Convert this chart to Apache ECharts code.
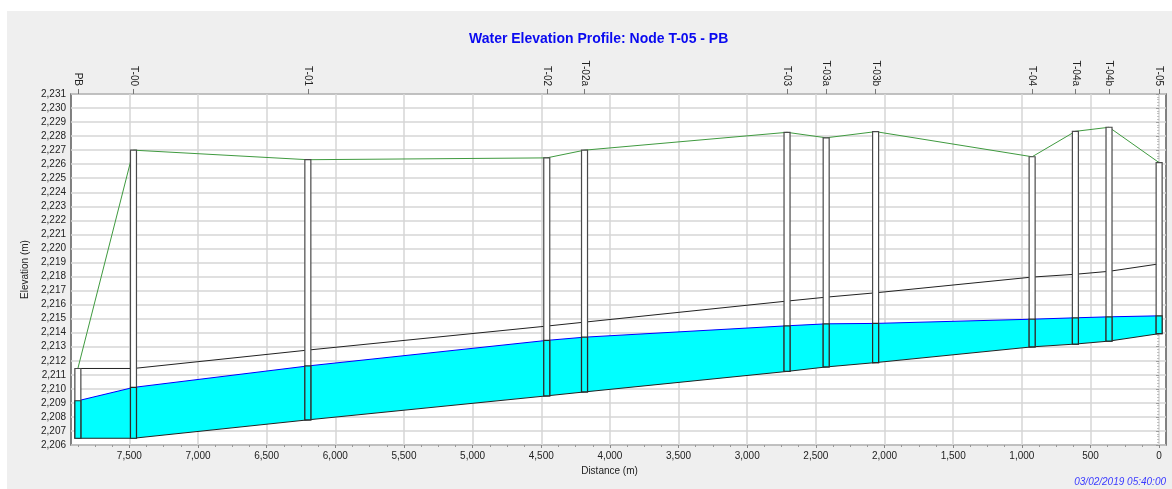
<!DOCTYPE html>
<html lang="en">
<head>
  <meta charset="UTF-8">
  <title>Water Elevation Profile</title>
  <script src="https://cdn.jsdelivr.net/npm/echarts@6/dist/echarts.min.js"></script>
  <style>
    html, body { margin: 0; padding: 0; background: #fff; }
    #main { width: 1172px; height: 489px; }
  </style>
</head>
<body>

<div id="main"></div>

<script>
  // nodes, from upstream (PB) to downstream (T-05); distance measured from T-05
  var nodeNames = ['PB', 'T-00', 'T-01', 'T-02', 'T-02a', 'T-03', 'T-03a', 'T-03b', 'T-04', 'T-04a', 'T-04b', 'T-05'];
  var nodeDist = [7875, 7470, 6200, 4460, 4185, 2710, 2425, 2065, 925, 610, 365, 0];
  var groundElev = [2211.45, 2227.0, 2226.32, 2226.45, 2227.0, 2228.27, 2227.88, 2228.32, 2226.53, 2228.34, 2228.63, 2226.11];
  var crownElev = [2211.45, 2211.45, 2212.76, 2214.47, 2214.75, 2216.25, 2216.53, 2216.84, 2217.96, 2218.16, 2218.37, 2218.9];
  var waterElev = [2209.15, 2210.1, 2211.63, 2213.45, 2213.68, 2214.49, 2214.63, 2214.66, 2214.96, 2215.06, 2215.13, 2215.2];
  var invertElev = [2206.48, 2206.48, 2207.79, 2209.5, 2209.78, 2211.24, 2211.56, 2211.87, 2212.99, 2213.19, 2213.4, 2213.93];

  var distTicks = [0, 500, 1000, 1500, 2000, 2500, 3000, 3500, 4000, 4500, 5000, 5500, 6000, 6500, 7000, 7500];
  var distRange = [-50, 7925];
  var elevRange = [2206, 2231];

  var minorTicks = [];
  for (var m = 0; m <= 7875; m += 125) {
    if (m % 500 !== 0) minorTicks.push(m);
  }

  function pairs(ys) {
    return nodeDist.map(function (d, i) { return [d, ys[i]]; });
  }
  function fmt(v) {
    return Number(v).toLocaleString('en-US');
  }

  var font = 'Liberation Sans, Arial, sans-serif';
  var chart = echarts.init(document.getElementById('main'));

  chart.setOption({
    animation: false,
    backgroundColor: '#fff',
    textStyle: { fontFamily: font },
    graphic: [
      {
        type: 'rect', z: -10, silent: true,
        shape: { x: 7, y: 11, width: 1165, height: 478 },
        style: { fill: '#efefef' }
      },
      {
        type: 'text', z: 10,
        style: {
          x: 1166, y: 482, text: '03/02/2019 05:40:00',
          align: 'right', verticalAlign: 'middle',
          fill: '#3b3bff', font: 'italic 10px ' + font
        }
      }
    ],
    title: {
      text: 'Water Elevation Profile: Node T-05 - PB',
      left: 464, top: 27,
      textStyle: { color: '#0a0af0', fontSize: 14, fontWeight: 'bold', fontFamily: font }
    },
    grid: {
      left: 71, right: 6, top: 94, bottom: 44,
      show: true, backgroundColor: '#fff',
      borderColor: '#5a5a5a', borderWidth: 1.5
    },
    xAxis: [
      {
        type: 'value', position: 'bottom', inverse: true,
        min: distRange[0], max: distRange[1],
        name: 'Distance (m)', nameLocation: 'middle', nameGap: 17,
        nameTextStyle: { color: '#222', fontSize: 10, padding: [0, 18, 0, 0] },
        axisLine: { show: false },
        axisTick: { show: true, customValues: distTicks, length: 3, lineStyle: { color: '#888' } },
        axisLabel: { customValues: distTicks, formatter: fmt, color: '#222', fontSize: 10, margin: 6 },
        splitLine: { show: true, lineStyle: { color: '#d6d6d6', width: 1.5 } }
      },
      {
        type: 'value', position: 'bottom', inverse: true,
        min: distRange[0], max: distRange[1],
        axisLine: { show: false },
        axisTick: { show: true, customValues: minorTicks, length: 2, lineStyle: { color: '#999' } },
        axisLabel: { show: false },
        splitLine: { show: false }
      },
      {
        type: 'value', position: 'top', inverse: true,
        min: distRange[0], max: distRange[1],
        axisLine: { show: false },
        axisTick: { show: true, customValues: nodeDist, length: 5, lineStyle: { color: '#777' } },
        axisLabel: {
          customValues: nodeDist, rotate: 90, color: '#222', fontSize: 10, margin: 8,
          formatter: function (v) { return nodeNames[nodeDist.indexOf(v)]; }
        },
        splitLine: { show: false }
      }
    ],
    yAxis: {
      type: 'value', min: elevRange[0], max: elevRange[1], interval: 1,
      name: 'Elevation (m)', nameLocation: 'middle', nameGap: 33,
      nameTextStyle: { color: '#222', fontSize: 10 },
      axisLine: { show: false },
      axisTick: { show: true, length: 3, lineStyle: { color: '#999' } },
      minorTick: { show: true, splitNumber: 5, length: 2, lineStyle: { color: '#bbb' } },
      axisLabel: { formatter: fmt, color: '#222', fontSize: 10, margin: 5 },
      splitLine: { show: true, lineStyle: { color: '#d6d6d6', width: 1.5 } }
    },
    series: [
      {
        // water in the pipes, between invert and hydraulic grade
        type: 'custom', z: 1, xAxisIndex: 0, silent: true,
        data: pairs(invertElev),
        renderItem: function (params, api) {
          var i = params.dataIndex;
          if (i >= nodeDist.length - 1) return null;
          var pts = [
            api.coord([nodeDist[i], invertElev[i]]),
            api.coord([nodeDist[i + 1], invertElev[i + 1]]),
            api.coord([nodeDist[i + 1], waterElev[i + 1]]),
            api.coord([nodeDist[i], waterElev[i]])
          ];
          return { type: 'polygon', shape: { points: pts }, style: { fill: '#00ffff', stroke: null } };
        }
      },
      {
        name: 'Hydraulic Grade', type: 'line', z: 2, symbol: 'none',
        data: pairs(waterElev),
        lineStyle: { color: '#0000ff', width: 1 }
      },
      {
        name: 'Invert', type: 'line', z: 2, symbol: 'none',
        data: pairs(invertElev),
        lineStyle: { color: '#222', width: 1 }
      },
      {
        name: 'Crown', type: 'line', z: 2, symbol: 'none',
        data: pairs(crownElev),
        lineStyle: { color: '#222', width: 1 }
      },
      {
        name: 'Ground', type: 'line', z: 2, symbol: 'none',
        data: pairs(groundElev),
        lineStyle: { color: '#3f9a3f', width: 1 }
      },
      {
        // manholes
        type: 'custom', z: 3, silent: true,
        data: pairs(groundElev),
        renderItem: function (params, api) {
          var i = params.dataIndex;
          var top = api.coord([nodeDist[i], groundElev[i]]);
          var wat = api.coord([nodeDist[i], waterElev[i]]);
          var bot = api.coord([nodeDist[i], invertElev[i]]);
          var w = 6;
          return {
            type: 'group',
            children: [
              {
                type: 'rect',
                shape: { x: top[0] - w / 2, y: top[1], width: w, height: bot[1] - top[1] },
                style: { fill: '#fff', stroke: '#4a4a4a', lineWidth: 1.2 }
              },
              {
                type: 'rect',
                shape: { x: wat[0] - w / 2, y: wat[1], width: w, height: bot[1] - wat[1] },
                style: { fill: '#00ffff', stroke: '#2a2a2a', lineWidth: 1.2 }
              }
            ]
          };
        }
      }
    ]
  });
</script>
</body>
</html>
